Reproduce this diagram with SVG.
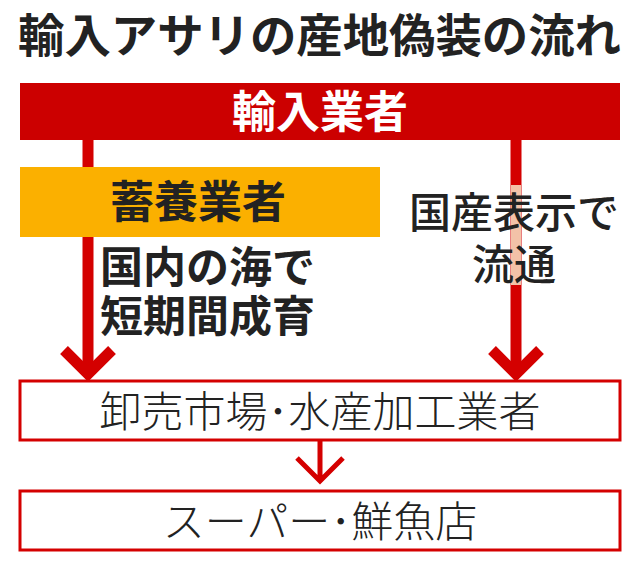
<svg xmlns="http://www.w3.org/2000/svg" width="640" height="573" viewBox="0 0 640 573">
<style>
text{font-family:"Noto Sans CJK JP","Noto Sans CJK SC",sans-serif;fill:#222}
.b{font-weight:700}
.l{font-weight:300;font-size:42px}
.box{fill:#fff;stroke:#d40000;stroke-width:3}
.ln{stroke:#d40000;fill:none}
</style>
<rect width="640" height="573" fill="#fff"/>
<text x="18" y="52" class="b" font-size="46" textLength="603" lengthAdjust="spacingAndGlyphs">輸入アサリの産地偽装の流れ</text>
<g id="importer"><rect x="20" y="83" width="600" height="57" fill="#cc0000"/>
<text x="320" y="128" class="b" font-size="44" text-anchor="middle" style="fill:#fff">輸入業者</text></g>
<g id="connectors">
<path class="ln" stroke-width="11" d="M88 140V372M516 140V372"/>
<path class="ln" stroke-width="11" d="M64 350L88 374L112 350M492 350L516 374L540 350"/>
<path class="ln" stroke-width="5" d="M320 440V480M297 458L320 481L343 458"/>
</g>
<rect x="511" y="185" width="10" height="100" fill="#f3c2a8"/>
<g id="farm"><rect x="20" y="167" width="360" height="70" fill="#fbb000"/>
<text x="198" y="218" class="b" font-size="44" text-anchor="middle">蓄養業者</text></g>
<text x="100" y="283" class="b" font-size="43">国内の海で</text>
<text x="100" y="332" class="b" font-size="43">短期間成育</text>
<text x="514" y="228" font-size="42" font-weight="500" text-anchor="middle">国産表示で</text>
<text x="514" y="280" font-size="42" font-weight="500" text-anchor="middle">流通</text>
<g id="market"><rect class="box" x="20" y="381" width="600" height="59"/>
<text x="320" y="427" class="l" text-anchor="middle">卸売市場･水産加工業者</text></g>
<g id="retail"><rect class="box" x="20" y="491" width="600" height="59"/>
<text x="320" y="537" class="l" text-anchor="middle">スーパー･鮮魚店</text></g>
</svg>
